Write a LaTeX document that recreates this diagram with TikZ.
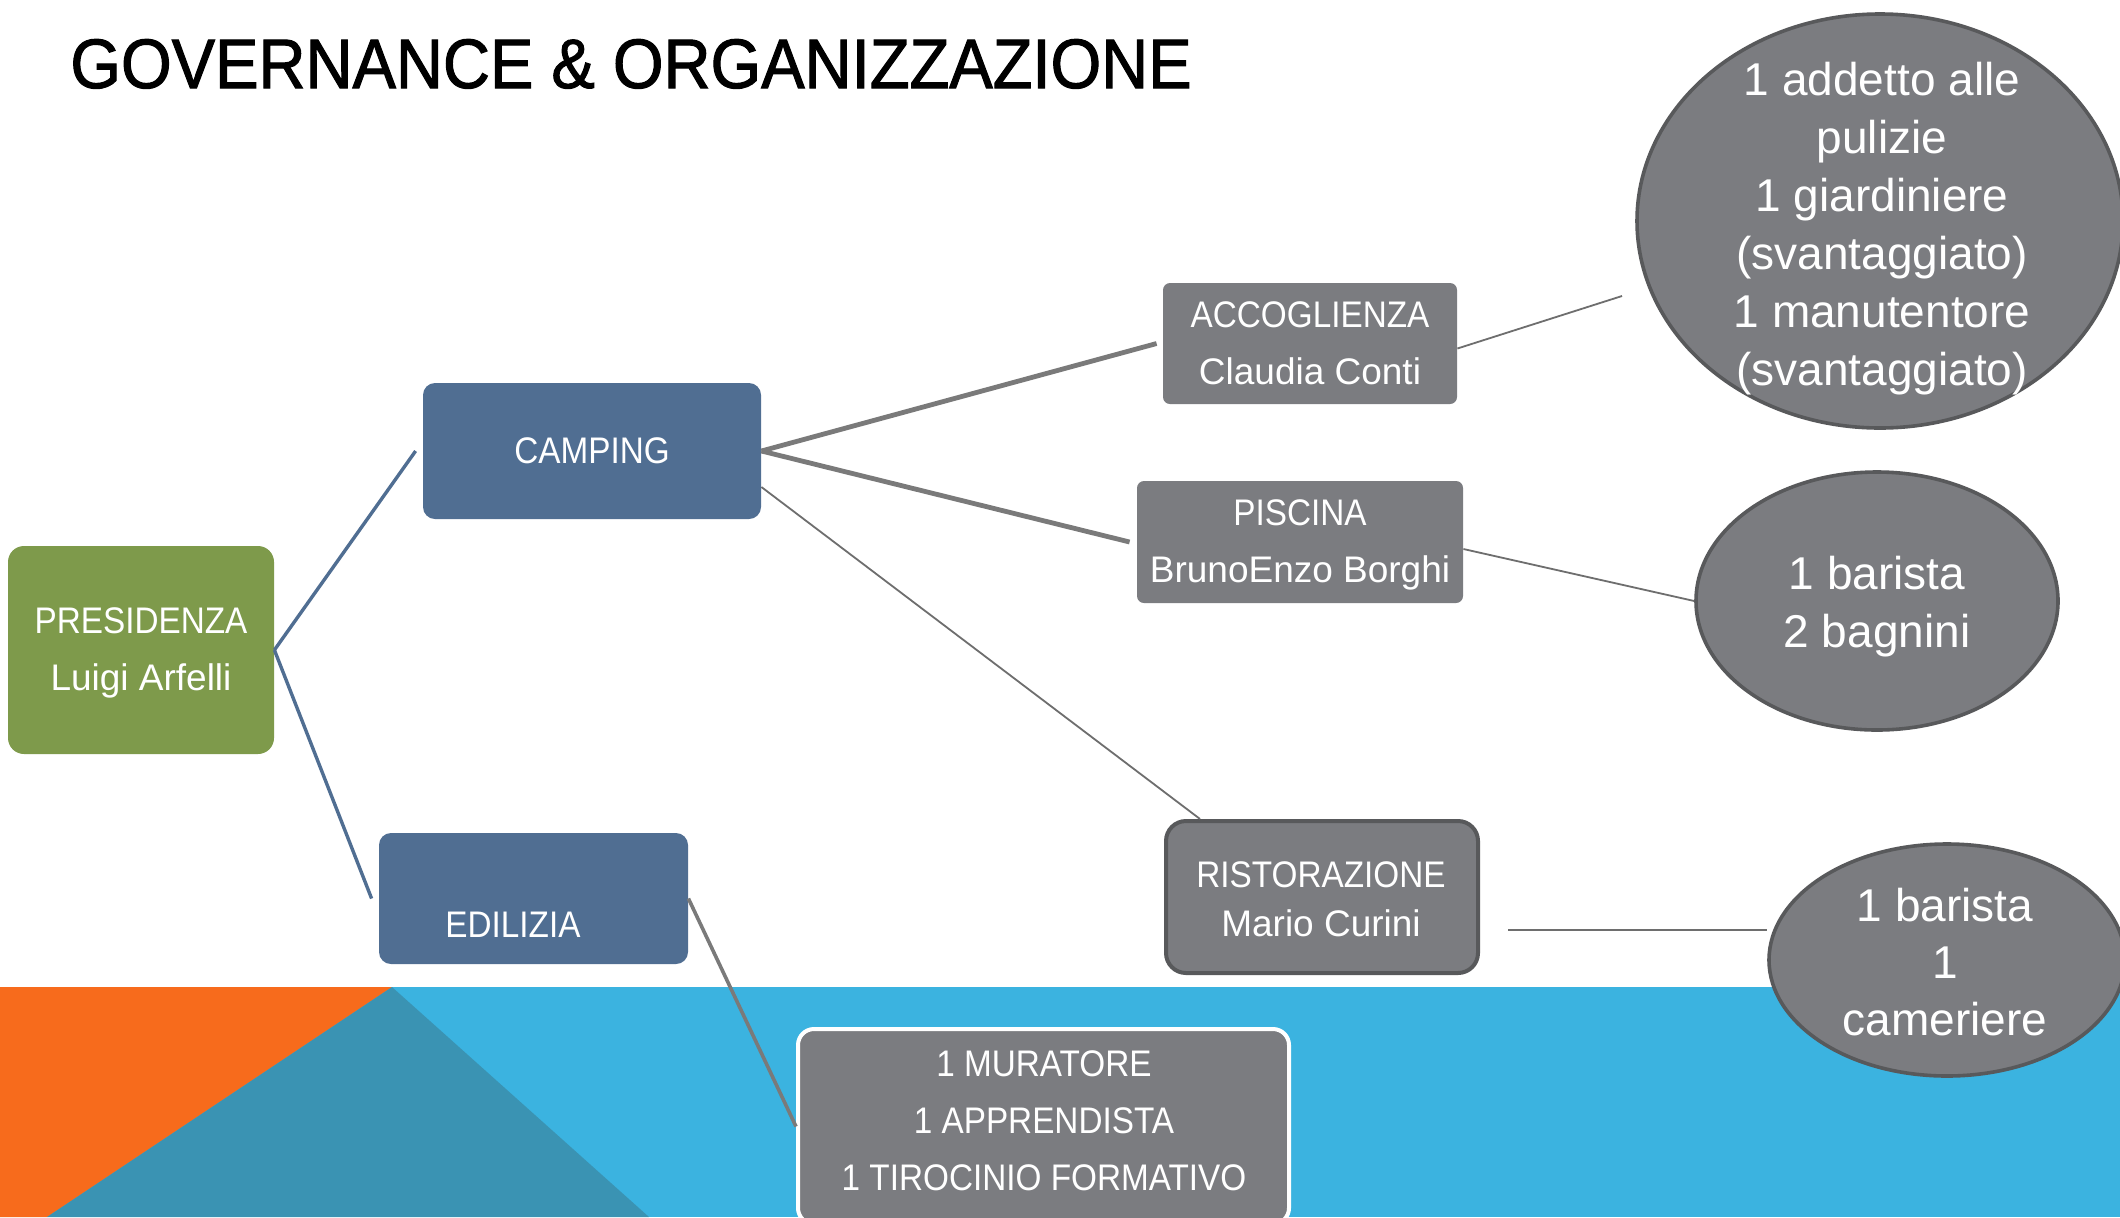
\documentclass[tikz,border=0pt]{standalone}
\usepackage{fontspec}
\setmainfont{Liberation Sans}
\newfontfamily\capsf[FakeStretch=0.9]{Liberation Sans}
\newfontfamily\titlef[FakeStretch=0.93,FakeBold=1.5]{Liberation Sans}
\usetikzlibrary{shapes.geometric}
\definecolor{pgreen}{HTML}{7E9A4B}
\definecolor{pblue}{HTML}{506E92}
\definecolor{pgray}{HTML}{7B7C80}
\definecolor{pdark}{HTML}{58595B}
\definecolor{bandblue}{HTML}{3BB3E0}
\definecolor{bandorange}{HTML}{F76B1C}
\definecolor{bandteal}{HTML}{3A93B3}
\definecolor{linegray}{HTML}{7A7A7A}
\definecolor{thingray}{HTML}{6E6E6E}
\tikzset{
  boxtext/.style={text=white, align=center, inner sep=0pt, font=\fontsize{18.5}{28.5}\selectfont},
  greenbox/.style={boxtext, fill=pgreen, rounded corners=8pt},
  bluebox/.style={boxtext, fill=pblue, rounded corners=6pt},
  graybox/.style={boxtext, fill=pgray, rounded corners=3.5pt},
  ristbox/.style={boxtext, fill=pgray, draw=pdark, line width=2pt, rounded corners=10pt},
  bottombox/.style={fill=pgray, draw=white, line width=2pt, rounded corners=8pt, inner sep=0pt},
  staffell/.style={ellipse, fill=pgray, draw=pdark, line width=1.8pt, inner sep=0pt},
  elltext/.style={text=white, align=center, inner sep=0pt},
  bluelink/.style={draw=pblue, line width=1.7pt},
  thicklink/.style={draw=linegray, line width=2.4pt},
  thinlink/.style={draw=thingray, line width=0.9pt},
  midlink/.style={draw=thingray, line width=1.3pt},
  edillink/.style={draw=linegray, line width=1.8pt}
}
\begin{document}
\begin{tikzpicture}[x=0.5pt,y=-0.5pt]
\useasboundingbox (0,0) rectangle (2120,1217);
\clip (0,0) rectangle (2120,1217);
\fill[white] (0,0) rectangle (2120,1217);
% bottom band
\fill[bandblue] (0,987) rectangle (2120,1217);
\fill[bandorange] (0,987) -- (392,987) -- (47,1217) -- (0,1217) -- cycle;
\fill[bandteal] (392,987) -- (47,1217) -- (649,1217) -- cycle;

% title
\node[anchor=base west, inner sep=0pt, font=\titlef\fontsize{35}{42}\selectfont] (title) at (70,88) {GOVERNANCE \& ORGANIZZAZIONE};

% boxes
\node[greenbox, minimum width=133pt, minimum height=104pt] (pres) at (141,650) {};
\node[boxtext] (prest) at (141,653) {{\capsf PRESIDENZA}\\Luigi Arfelli};
\node[bluebox, minimum width=169pt, minimum height=68pt] (camp) at (592,451) {\capsf CAMPING};
\node[bluebox, minimum width=154.5pt, minimum height=65.5pt] (edil) at (533.5,898.5) {};
\node[boxtext] (ediltext) at (513,925) {\capsf EDILIZIA};
\node[graybox, minimum width=147pt, minimum height=60.5pt] (acc) at (1310,343.5) {{\capsf ACCOGLIENZA}\\Claudia Conti};
\node[graybox, minimum width=163pt, minimum height=61pt] (pisc) at (1300,542) {};
\node[boxtext] (pisct) at (1300,545) {{\capsf PISCINA}\\BrunoEnzo Borghi};
\node[ristbox, minimum width=156pt, minimum height=76pt] (rist) at (1322,897) {};
\node[boxtext, font=\fontsize{18.5}{24.5}\selectfont] (ristt) at (1321,899) {{\capsf RISTORAZIONE}\\Mario Curini};
\node[bottombox, minimum width=245.5pt, minimum height=97.5pt] (bot) at (1043.5,1126.5) {};
\node[boxtext, font=\capsf\fontsize{18.5}{28.5}\selectfont] (bott) at (1044,1121) {1 MURATORE\\1 APPRENDISTA\\1 TIROCINIO FORMATIVO};

% ellipses
\node[staffell, minimum width=243pt, minimum height=207pt] (ell1) at (1880,221) {};
\node[elltext, font=\fontsize{23}{29}\selectfont] (ell1t) at (1882,229) {1 addetto alle\\pulizie\\1 giardiniere\\(svantaggiato)\\1 manutentore\\(svantaggiato)};
\node[staffell, minimum width=181pt, minimum height=129pt] (ell2) at (1877,601) {};
\node[elltext, font=\fontsize{23}{29}\selectfont] (ell2t) at (1877,607) {1 barista\\2 bagnini};
\node[staffell, minimum width=178pt, minimum height=116pt] (ell3) at (1947,960) {};
\node[elltext, font=\fontsize{23}{28.5}\selectfont] (ell3t) at (1945,962) {1 barista\\1\\cameriere};

\coordinate (e1end) at (1622,296);

% connectors
\draw[bluelink] (pres.east) -- ([xshift=-3.5pt]camp.west);
\draw[bluelink] (pres.east) -- ([xshift=-3.5pt]edil.west);
\draw[thicklink] (camp.east) -- ([xshift=-3pt]acc.west);
\draw[thicklink] (camp.east) -- ([xshift=-3.5pt]pisc.west);
\draw[thinlink] ([yshift=-18pt]camp.east) -- ([xshift=-61pt]rist.north);
\draw[thinlink] ([yshift=-2.5pt]acc.east) -- (e1end);
\draw[thinlink] ([yshift=-3.5pt]pisc.east) -- (ell2.west);
\draw[midlink] ([xshift=14pt,yshift=-16.5pt]rist.east) -- ([yshift=15pt]ell3.west);
\draw[edillink] (edil.east) -- (bot.west);
\end{tikzpicture}
\end{document}
